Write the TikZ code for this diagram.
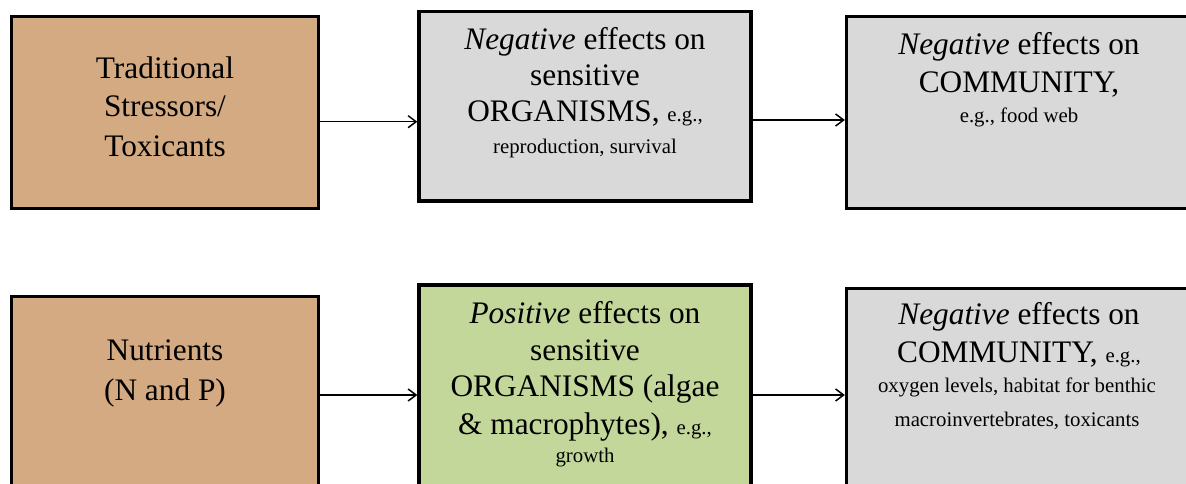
\documentclass[tikz,border=0pt]{standalone}
\usepackage{fontspec}
\setmainfont{Liberation Serif}
\usetikzlibrary{fit,arrows.meta}
\definecolor{tanfill}{RGB}{212,170,130}
\definecolor{grayfill}{RGB}{217,217,217}
\definecolor{greenfill}{RGB}{196,215,155}
\newcommand{\bigtxt}{\fontsize{23.5pt}{28pt}\selectfont}
\newcommand{\smtxt}{\fontsize{15.6pt}{18pt}\selectfont}
\tikzset{
  box/.style={draw=black, line width=2.5pt, inner sep=0pt, rectangle},
  ln/.style={anchor=base, inner sep=0pt, font=\bigtxt},
  sm/.style={anchor=base, inner sep=0pt, font=\smtxt},
  arr/.style={line width=1.1pt, -{Straight Barb[length=6pt,width=9pt,line width=1.1pt]}}
}
\begin{document}
\begin{tikzpicture}[x=0.75pt,y=-0.75pt]
\useasboundingbox (0,0) rectangle (1186,484);
\clip (0,0) rectangle (1186,484);
% boxes
\node[box, fill=tanfill,   fit={(11.5,16.5) (318.5,208.5)}] (b1) {};
\node[box, fill=grayfill,  fit={(419,11.5) (751,201)}] (b2) {};
\node[box, fill=grayfill,  fit={(846.5,16.5) (1192,208.5)}] (b3) {};
\node[box, fill=tanfill,   fit={(11.5,296.5) (318.5,495)}] (b4) {};
\node[box, fill=greenfill, fit={(419,285) (751,495)}] (b5) {};
\node[box, fill=grayfill,  fit={(846.5,288.5) (1192,495)}] (b6) {};
% box 1 text
\node[ln] (t1a) at (165,79) {Traditional};
\node[ln] (t1b) at (165,117) {Stressors/};
\node[ln] (t1c) at (165,157) {Toxicants};
% box 2 text
\node[ln] (t2a) at (585,50) {\textit{Negative} effects on};
\node[ln] (t2b) at (585,86) {sensitive};
\node[ln] (t2c) at (585,121.7) {ORGANISMS, {\smtxt e.g.,}};
\node[sm] (t2d) at (585,154) {reproduction, survival};
% box 3 text
\node[ln] (t3a) at (1019,55) {\textit{Negative} effects on};
\node[ln] (t3b) at (1019,93) {COMMUNITY,};
\node[sm] (t3c) at (1019,123) {e.g., food web};
% box 4 text
\node[ln] (t4a) at (165,361) {Nutrients};
\node[ln] (t4b) at (165,400.7) {(N and P)};
% box 5 text
\node[ln] (t5a) at (585,324) {\textit{Positive} effects on};
\node[ln] (t5b) at (585,361) {sensitive};
\node[ln] (t5c) at (585,397) {ORGANISMS (algae};
\node[ln] (t5d) at (585,435) {\& macrophytes), {\smtxt e.g.,}};
\node[sm] (t5e) at (585,463) {growth};
% box 6 text
\node[ln] (t6a) at (1019,325) {\textit{Negative} effects on};
\node[ln] (t6b) at (1019,363) {COMMUNITY, {\smtxt e.g.,}};
\node[sm] (t6c) at (1017,393) {oxygen levels, habitat for benthic};
\node[sm] (t6d) at (1017,427) {macroinvertebrates, toxicants};
% arrows
\coordinate (ya) at (0,121.7);
\coordinate (yb) at (0,120);
\coordinate (yc) at (0,395);
\draw[arr] (b1.east |- ya) -- (b2.west |- ya);
\draw[arr] (b2.east |- yb) -- (b3.west |- yb);
\draw[arr] (b4.east |- yc) -- (b5.west |- yc);
\draw[arr] (b5.east |- yc) -- (b6.west |- yc);
\end{tikzpicture}
\end{document}
